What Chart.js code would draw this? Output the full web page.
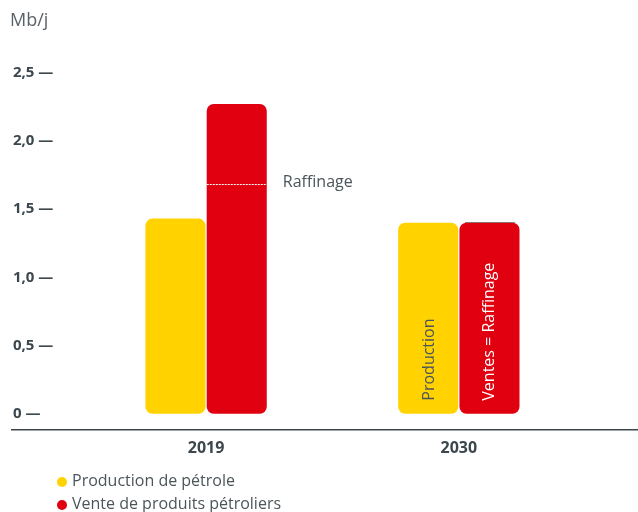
<!DOCTYPE html>
<html>
<head>
<meta charset="utf-8">
<script src="https://cdn.jsdelivr.net/npm/chart.js@4"></script>
<style>
  html, body { margin: 0; padding: 0; background: #fff; }
  #wrap { position: relative; width: 638px; height: 512px; overflow: hidden; }
  #legend { position: absolute; left: 57px; top: 469px; font: 16px "Open Sans", sans-serif; color: #4b555a; }
  #legend div { height: 23px; line-height: 23px; white-space: nowrap; }
  #legend span { display: inline-block; width: 10px; height: 10px; border-radius: 50%; margin-right: 5px; vertical-align: -0.5px; }
</style>
</head>
<body>
<div id="wrap">
  <canvas id="chart" width="638" height="512"></canvas>
  <div id="legend"></div>
</div>
<script>
// Data
const categories = ['2019', '2030'];
const production = [1.43, 1.40];       // Production de pétrole
const ventes = [2.27, 1.40];           // Vente de produits pétroliers
const raffinage = [1.68, 1.40];        // niveau de raffinage
const tickValues = [0, 0.5, 1, 1.5, 2, 2.5];
const tickLabels = ['0', '0,5', '1,0', '1,5', '2,0', '2,5'];
const seriesNames = ['Production de pétrole', 'Vente de produits pétroliers'];

const YELLOW = '#FFD200';
const RED = '#E1000F';
const TEXT = '#4b555a';
const DARK = '#3b474d';
const FONT = '"Open Sans", sans-serif';

// Notes drawn on the bars (raffinage line, side label, rotated labels)
const notesPlugin = {
  id: 'notes',
  afterDatasetsDraw(chart) {
    const ctx = chart.ctx;
    const y = chart.scales.y;
    const prodMeta = chart.getDatasetMeta(0);
    const redMeta = chart.getDatasetMeta(1);
    ctx.save();
    categories.forEach((c, i) => {
      const bar = redMeta.data[i];
      const half = bar.width / 2;
      const ry = Math.round(y.getPixelForValue(raffinage[i])) + 0.5;
      if (raffinage[i] < ventes[i]) {
        // dotted white line inside the red bar + side label
        ctx.strokeStyle = '#fff';
        ctx.lineWidth = 1;
        ctx.setLineDash([2, 1]);
        ctx.beginPath();
        ctx.moveTo(bar.x - half, ry);
        ctx.lineTo(bar.x + half, ry);
        ctx.stroke();
        ctx.setLineDash([]);
        ctx.fillStyle = TEXT;
        ctx.font = '16px ' + FONT;
        ctx.textAlign = 'left';
        ctx.textBaseline = 'middle';
        ctx.fillText('Raffinage', bar.x + half + 16, ry - 2);
      } else {
        // raffinage equals sales: dotted line on top of the bar
        ctx.strokeStyle = '#222';
        ctx.lineWidth = 1;
        ctx.setLineDash([1, 1]);
        ctx.beginPath();
        ctx.moveTo(bar.x - half + 6, ry - 1);
        ctx.lineTo(bar.x + half - 4, ry - 1);
        ctx.stroke();
        ctx.setLineDash([]);
        const base = y.getPixelForValue(0) - 13;
        ctx.font = '16px ' + FONT;
        ctx.textAlign = 'left';
        ctx.textBaseline = 'middle';
        const p = prodMeta.data[i];
        ctx.save();
        ctx.translate(p.x + 1, base);
        ctx.rotate(-Math.PI / 2);
        ctx.fillStyle = TEXT;
        ctx.fillText('Production', 0, 0);
        ctx.restore();
        ctx.save();
        ctx.translate(bar.x, base);
        ctx.rotate(-Math.PI / 2);
        ctx.fillStyle = '#fff';
        ctx.fillText('Ventes = Raffinage', 0, 0);
        ctx.restore();
      }
    });
    ctx.restore();
  }
};

const ctx = document.getElementById('chart').getContext('2d');
const chart = new Chart(ctx, {
  type: 'bar',
  data: {
    datasets: [{
      label: seriesNames[0],
      data: categories.map((c, i) => ({ x: i + 1, y: production[i] })),
      backgroundColor: YELLOW
    }, {
      label: seriesNames[1],
      data: categories.map((c, i) => ({ x: i + 1, y: ventes[i] })),
      backgroundColor: RED
    }]
  },
  options: {
    responsive: false,
    animation: false,
    layout: { padding: { left: 10, right: 1, bottom: 45 } },
    datasets: {
      bar: {
        categoryPercentage: 0.485,
        barPercentage: 0.98,
        borderRadius: 7,
        borderSkipped: false
      }
    },
    plugins: {
      legend: { display: false },
      tooltip: { enabled: false },
      title: {
        display: true,
        text: 'Mb/j',
        align: 'start',
        color: '#5a6268',
        font: { family: FONT, size: 18, weight: 'normal' },
        padding: { top: 10, bottom: 41 }
      }
    },
    scales: {
      x: {
        type: 'linear',
        offset: false,
        min: 0.232,
        max: 2.705,
        grid: { display: false, drawTicks: false },
        border: { display: true, color: DARK, width: 1.5 },
        afterBuildTicks: s => { s.ticks = categories.map((c, i) => ({ value: i + 1 })); },
        ticks: {
          padding: 9,
          color: DARK,
          font: { family: FONT, size: 16, weight: 'bold' },
          callback: v => categories[v - 1]
        }
      },
      y: {
        min: -0.118,
        max: 2.5,
        grid: { display: false, drawTicks: false },
        border: { display: false },
        afterBuildTicks: s => { s.ticks = tickValues.map(v => ({ value: v })); },
        ticks: {
          mirror: true,
          crossAlign: 'near',
          padding: 1,
          color: DARK,
          font: { family: FONT, size: 15, weight: 'bold' },
          callback: v => tickLabels[tickValues.indexOf(v)] + ' \u2014'
        }
      }
    }
  },
  plugins: [notesPlugin]
});

// HTML legend, one item per row
const legend = document.getElementById('legend');
chart.data.datasets.forEach(ds => {
  const row = document.createElement('div');
  const dot = document.createElement('span');
  dot.style.background = ds.backgroundColor;
  row.appendChild(dot);
  row.appendChild(document.createTextNode(ds.label));
  legend.appendChild(row);
});
</script>
</body>
</html>
